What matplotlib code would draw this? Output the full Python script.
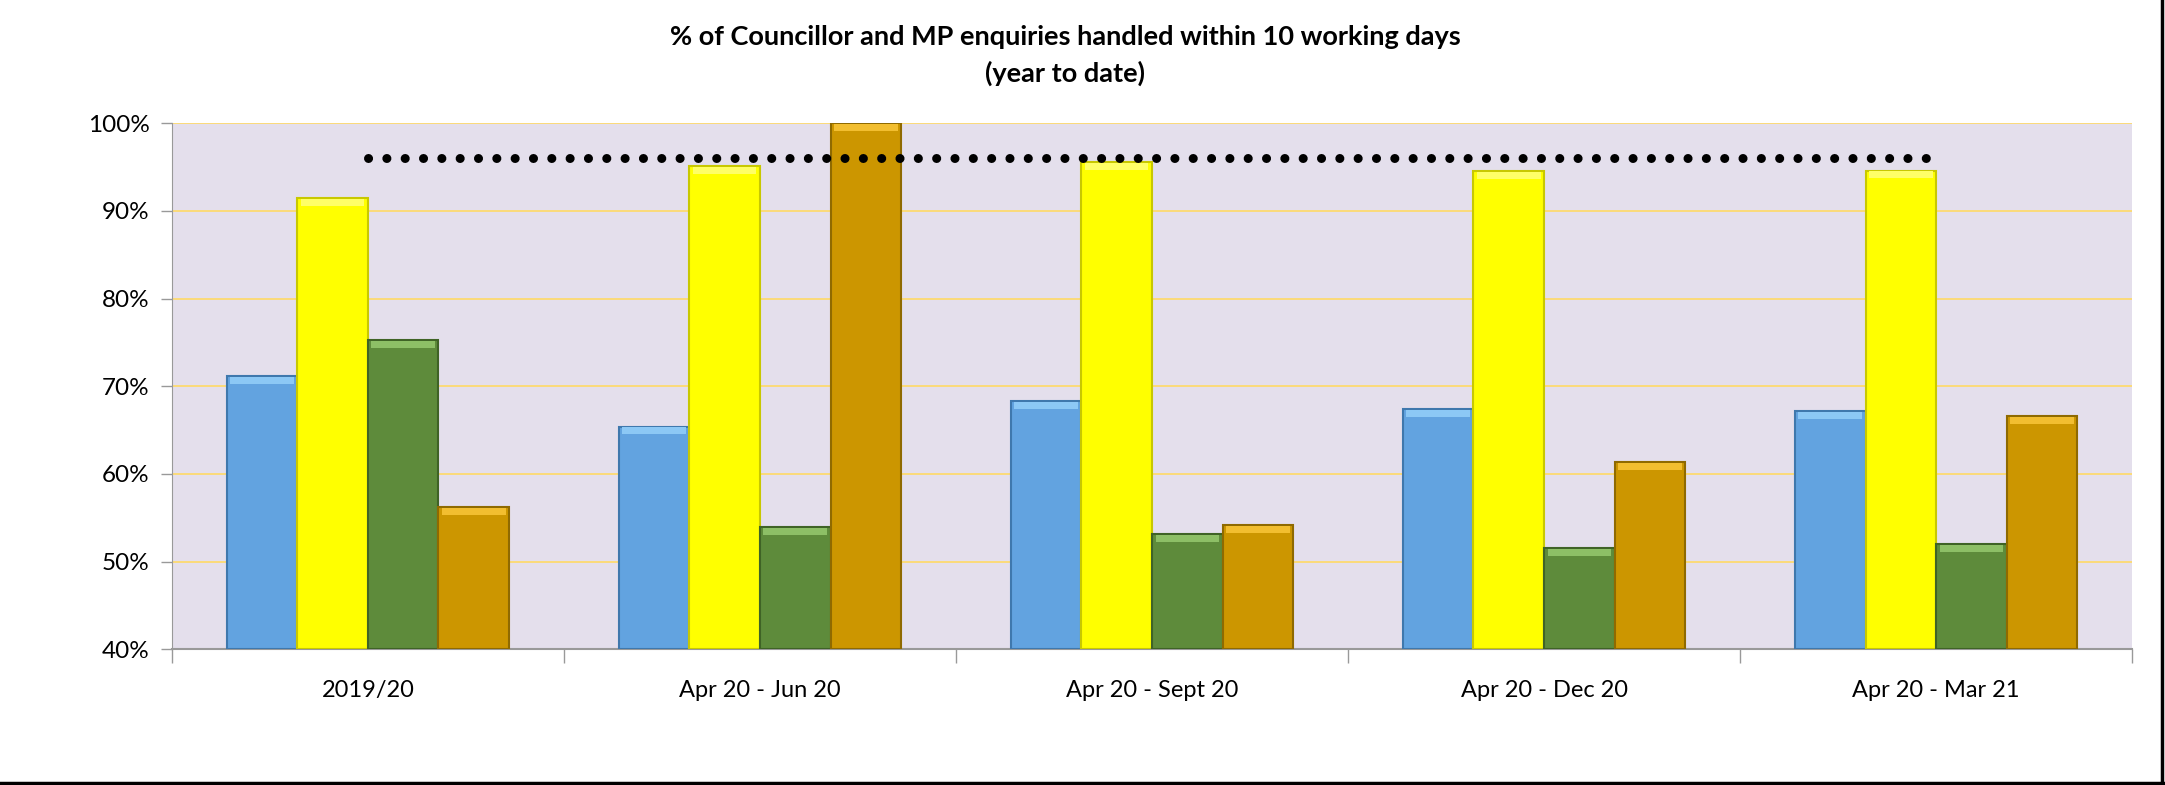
import numpy as np
import matplotlib.pyplot as plt
from matplotlib.lines import Line2D

plt.rcParams['font.family'] = ['Lato', 'DejaVu Sans']

# data
periods = ['2019/20', 'Apr 20 - Jun 20', 'Apr 20 - Sept 20', 'Apr 20 - Dec 20', 'Apr 20 - Mar 21']
series_a = [71.2, 65.4, 68.3, 67.4, 67.2]   # blue
series_b = [91.5, 95.1, 95.6, 94.5, 94.6]   # yellow
series_c = [75.3, 53.9, 53.1, 51.5, 52.0]   # green
series_d = [56.2, 100.0, 54.2, 61.3, 66.6]  # gold
target = [96, 96, 96, 96, 96]

colors = ['#62A3E0', '#FFFF00', '#5E8B3B', '#CC9600']
edges = ['#3F78AD', '#C8C800', '#3F6326', '#8F6A00']
tops = ['#8CC8F5', '#FFFF66', '#8DBF66', '#F2BE30']

fig = plt.figure(figsize=(21.65, 7.85), dpi=100)
ax = fig.add_axes([0.0794, 0.173, 0.9054, 0.670])
ax.set_facecolor('#E4DFEC')

x = np.arange(len(periods))
w = 0.18
all_series = [series_a, series_b, series_c, series_d]
for i, vals in enumerate(all_series):
    off = (i - 1.5) * w
    vals = np.array(vals)
    ax.bar(x + off, vals - 40, width=w, bottom=40, color=colors[i],
           edgecolor=edges[i], linewidth=1.5, zorder=3)
    # bevel highlight along the top of each bar
    ax.bar(x + off, np.full(len(vals), 0.8), width=w * 0.9, bottom=vals - 0.9,
           color=tops[i], linewidth=0, zorder=3.5)

ax.plot(x, target, color='black', linewidth=6.5, dashes=(0.01, 2.02),
        dash_capstyle='round', zorder=4)

ax.set_ylim(40, 100)
ax.set_xlim(-0.5, len(periods) - 0.5)
ax.set_yticks(np.arange(40, 101, 10))
ax.set_yticklabels([f'{v}%' for v in range(40, 101, 10)], fontsize=17.5)
ax.yaxis.grid(True, color='#FFD966', linewidth=1.2, zorder=1)
ax.set_axisbelow(True)

ax.set_xticks(x)
ax.set_xticklabels(periods, fontsize=17)
ax.set_xticks(np.arange(-0.5, len(periods)), minor=True)
ax.tick_params(axis='x', which='major', length=0, pad=22)
ax.tick_params(axis='x', which='minor', length=10, color='#999999', width=1)
ax.tick_params(axis='y', length=8, color='#999999', width=1, pad=8)

for s in ['top', 'right']:
    ax.spines[s].set_visible(False)
ax.spines['left'].set_color('#999999')
ax.spines['bottom'].set_color('#999999')
ax.spines['bottom'].set_linewidth(1.5)

fig.text(0.492, 0.953, '% of Councillor and MP enquiries handled within 10 working days',
         ha='center', va='center', fontsize=19.5, fontweight='bold')
fig.text(0.492, 0.906, '(year to date)', ha='center', va='center',
         fontsize=19.5, fontweight='bold')

# frame edge on right and bottom
fig.add_artist(Line2D([0, 1], [0.003, 0.003], color='black', linewidth=2.5))
fig.add_artist(Line2D([0.9988, 0.9988], [0, 1], color='black', linewidth=2.5))

fig.savefig('out.png', dpi=100)
